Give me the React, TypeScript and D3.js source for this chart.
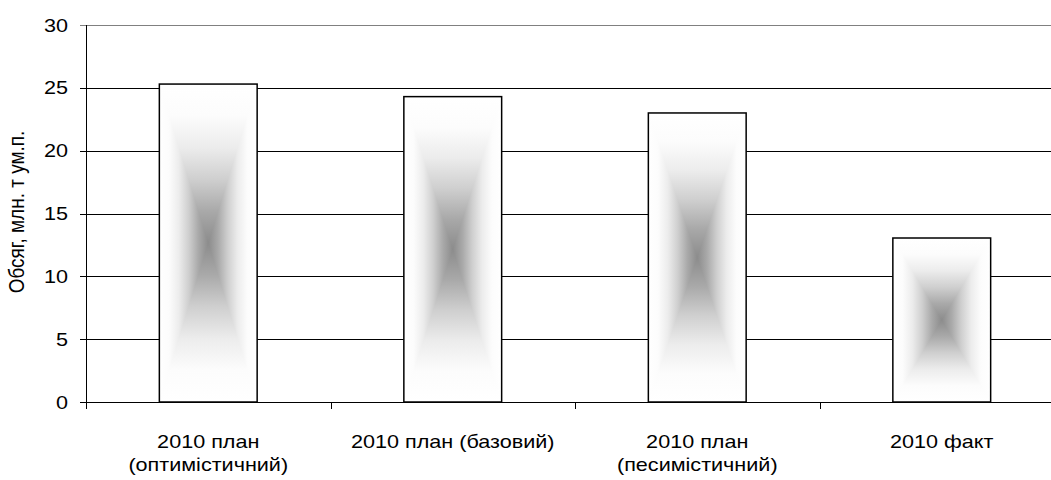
import * as d3 from "d3";

const categories = [
    ["2010 план", "(оптимістичний)"],
    ["2010 план (базовий)"],
    ["2010 план", "(песимістичний)"],
    ["2010 факт"],
];
const values = [25.3, 24.3, 23.0, 13.05];
const yTicks = [0, 5, 10, 15, 20, 25, 30];
const yLabel = "Обсяг, млн. т ум.п.";

const W = 1051;
const H = 480;
const margin = { top: 25, left: 86, bottom: 78 };
const plotBottom = H - margin.bottom;
const plotRight = margin.left + 4 * 244.5;

const font = "'Liberation Sans', Arial, sans-serif";
const stretch = 1.2;

// shade across a bar, white at the edges and gray in the middle
const shade: [number, string][] = [
    [0, "#ffffff"],
    [0.1, "#fcfcfc"],
    [0.2, "#ececec"],
    [0.3, "#cfcfcf"],
    [0.4, "#a9a9a9"],
    [0.5, "#8c8c8c"],
    [0.6, "#a9a9a9"],
    [0.7, "#cfcfcf"],
    [0.8, "#ececec"],
    [0.9, "#fcfcfc"],
    [1, "#ffffff"],
];

function App() {
    const keys = categories.map((c) => c.join(" "));
    const x = d3.scaleBand().domain(keys).range([margin.left, plotRight]).paddingInner(0.6).paddingOuter(0.3);
    const band = d3.scaleBand().domain(keys).range([margin.left, plotRight]);
    const y = d3.scaleLinear().domain([0, 30]).range([plotBottom, margin.top]);

    const px = (v: number) => Math.round(v) + 0.5;

    return (
        <div style={{ position: "fixed", left: 0, top: 0, width: W, height: H, overflow: "hidden" }}>
            <svg width={W} height={H} style={{ background: "#ffffff", display: "block" }} fontFamily={font}>
                <defs>
                    <linearGradient id="gH" x1={0} y1={0} x2={1} y2={0}>
                        {shade.map((s) => <stop key={s[0]} offset={s[0]} stopColor={s[1]} />)}
                    </linearGradient>
                    <linearGradient id="gV" x1={0} y1={0} x2={0} y2={1}>
                        {shade.map((s) => <stop key={s[0]} offset={s[0]} stopColor={s[1]} />)}
                    </linearGradient>
                </defs>

                {/* grid lines */}
                {yTicks.filter((t) => t > 0).map((t) => (
                    <line key={t} x1={margin.left} x2={plotRight} y1={px(y(t))} y2={px(y(t))}
                        stroke={t === 30 ? "#808080" : "#000"} strokeWidth={1} />
                ))}

                {/* bars: box gradient = lighten(horizontal, vertical) */}
                {values.map((v, i) => {
                    const x0 = x(keys[i])!;
                    const w = x.bandwidth();
                    const y0 = y(v);
                    const h = plotBottom - y0;
                    return (
                        <g key={keys[i]}>
                            <g style={{ isolation: "isolate" }}>
                                <rect x={x0} y={y0} width={w} height={h} fill="url(#gH)" />
                                <rect x={x0} y={y0} width={w} height={h} fill="url(#gV)" style={{ mixBlendMode: "lighten" }} />
                            </g>
                            <rect x={x0} y={y0} width={w} height={h} fill="none" stroke="#000" strokeWidth={1.5} />
                        </g>
                    );
                })}

                {/* axes */}
                <line x1={margin.left + 0.5} x2={margin.left + 0.5} y1={margin.top} y2={plotBottom} stroke="#000" />
                <line x1={margin.left} x2={plotRight} y1={plotBottom + 0.5} y2={plotBottom + 0.5} stroke="#000" />
                {yTicks.map((t) => (
                    <g key={t}>
                        <line x1={margin.left - 6} x2={margin.left} y1={px(y(t))} y2={px(y(t))}
                            stroke={t === 30 ? "#808080" : "#000"} />
                        <text transform={`translate(68, ${y(t) + 6.5}) scale(${stretch}, 1)`} textAnchor="end" fontSize={18}>{t}</text>
                    </g>
                ))}
                {keys.map((k) => (
                    <line key={k} x1={px(band(k)!)} x2={px(band(k)!)}
                        y1={plotBottom} y2={plotBottom + 7} stroke="#000" />
                ))}
                {categories.map((lines, i) => {
                    const cx = band(keys[i])! + band.bandwidth() / 2;
                    return (
                        <g key={keys[i]}>
                            {lines.map((l, j) => (
                                <text key={j} transform={`translate(${cx}, ${448 + j * 23}) scale(${stretch}, 1)`}
                                    textAnchor="middle" fontSize={18}>{l}</text>
                            ))}
                        </g>
                    );
                })}

                <text transform={`translate(24, 212) scale(${stretch}, 1) rotate(-90)`} textAnchor="middle" fontSize={19}>{yLabel}</text>
            </svg>
        </div>
    );
}

export default App;
